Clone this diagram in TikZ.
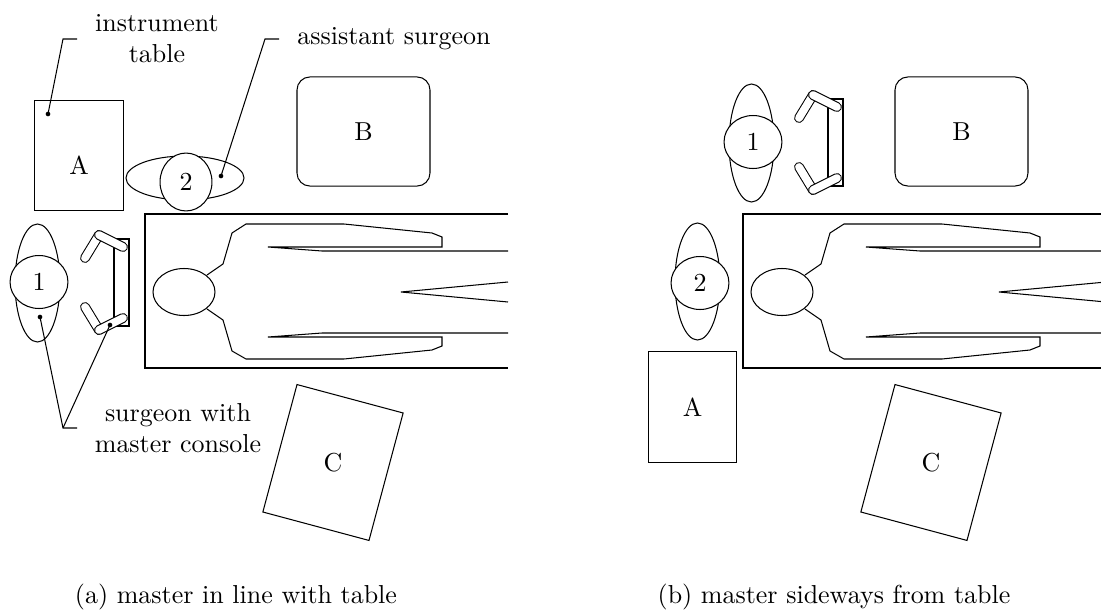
\documentclass[tikz,border=0pt]{standalone}
\usepackage{tikz}
\usetikzlibrary{shapes.geometric}

\begin{document}
\begin{tikzpicture}[x=0.385pt, y=-0.385pt,
    every node/.style={inner sep=0pt},
    furniture/.style={draw, rectangle},
    head/.style={draw, ellipse, fill=white, minimum width=22.3pt, minimum height=20.4pt},
    armrest/.style={double, double distance=3pt, line cap=round},
    dot/.style={circle, fill, minimum size=1.8pt}]
    \clip (0,0) rectangle (1101,610);

    % Operating table, patient, B and C (same in both layouts)
    \foreach \dx/\p in {0/a, 598/b} {
    \begin{scope}[shift={(\dx,0)}]
        \draw (508,214) -- (145,214) -- (145,368) -- (508,368);
        \draw (184,292) ellipse [x radius=31, y radius=23.5];
        \draw (207,275) -- (223,264) -- (232,233) -- (246,224) -- (344,224) -- (432,233)
              -- (442,237) -- (442,247) -- (268,247) -- (322,251) -- (508,251);
        \draw (207,309) -- (223,320) -- (232,351) -- (246,359) -- (344,359) -- (432,350)
              -- (442,346) -- (442,337) -- (268,337) -- (322,333) -- (508,333);
        \draw (508,282) -- (401,292) -- (508,302);

        \node[draw, rounded corners=5pt, minimum width=51.2pt, minimum height=42pt] (B\p) at (363.5,131.5) {B};
        \node[draw, rotate=-15, minimum width=42.3pt, minimum height=50.8pt] (C\p) at (333,462.5) {};
        \node (Clabel\p) at (C\p) {C};
    \end{scope}
    }

    % Surgeon 1 at the master console
    \foreach \sx/\sy/\p in {0/0/a, 714/-140/b} {
    \begin{scope}[shift={(\sx,\sy)}]
        \draw (114,239) rectangle (129,326);
        \draw[armrest] (85,258) -- (99,235);
        \draw[armrest] (99,235) -- (123,247);
        \draw[armrest] (85,307) -- (99,330);
        \draw[armrest] (99,330) -- (123,318);
        \draw (37.5,283) ellipse [x radius=22.5, y radius=59];
        \node[head] (one\p) at (39,282) {1};
    \end{scope}
    }

    % (a) assistant and instrument table
    \draw (185,178) ellipse [x radius=59, y radius=22];
    \node[head, minimum width=20pt, minimum height=22.3pt] (twoa) at (186,182) {2};
    \node[furniture, minimum width=33.9pt, minimum height=42.7pt] (Aa) at (79,155.5) {};
    \node (Alabela) at (79,165) {A};

    % (b) assistant and instrument table
    \draw (697.5,281.5) ellipse [x radius=22.5, y radius=58.5];
    \node[head] (twob) at (700,283) {2};
    \node[furniture, minimum width=33.9pt, minimum height=42.7pt] (Ab) at (692.5,407) {A};

    % Leaders
    \node[align=center] (instlabel) at (157,39) {instrument\\table};
    \node[dot] (instdot) at (48,114) {};
    \coordinate (instbend) at (63,39);
    \coordinate (instend) at (77,39);
    \draw (instdot.center) -- (instbend) -- (instend);

    \node (asslabel) at (394,39) {assistant surgeon};
    \node[dot] (assdot) at (221,176) {};
    \coordinate (assbend) at (265,39);
    \coordinate (assend) at (279,39);
    \draw (assdot.center) -- (assbend) -- (assend);

    \node[align=center] (surglabel) at (178,428) {surgeon with\\master console};
    \node[dot] (surgdot) at (40,317) {};
    \node[dot] (consdot) at (110,325) {};
    \coordinate (surgbend) at (63,428);
    \coordinate (surgend) at (77,428);
    \draw (surgdot.center) -- (surgbend) -- (surgend);
    \draw (consdot.center) -- (surgbend);

    % Captions
    \node (capa) at (236,597) {(a) master in line with table};
    \node (capb) at (834,597) {(b) master sideways from table};
\end{tikzpicture}
\end{document}
